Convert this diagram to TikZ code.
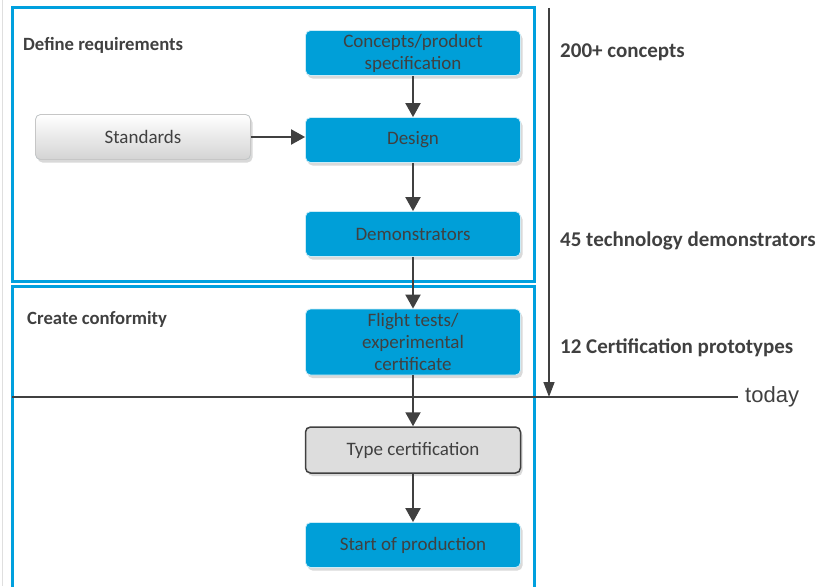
\documentclass[tikz,border=0pt]{standalone}
\usepackage{fontspec}
\setmainfont{Carlito}
\newfontfamily\todayfont{Liberation Sans}
\usepackage{tikz}
\usetikzlibrary{arrows.meta,shadows}

\definecolor{frameblue}{RGB}{0,160,222}
\definecolor{boxblue}{RGB}{0,159,216}
\definecolor{darktext}{RGB}{64,64,64}
\definecolor{lightbox}{RGB}{221,221,221}

\tikzset{
	stage/.style={rectangle, rounded corners=5pt, fill=boxblue, draw=white!80!boxblue,
		line width=0.8pt, minimum width=215pt, minimum height=45pt, inner sep=0pt,
		align=center, text=darktext, font=\fontsize{19}{22}\selectfont,
		drop shadow={opacity=0.3, shadow xshift=2pt, shadow yshift=-3pt}},
	input/.style={stage, draw=gray!45, top color=white, bottom color=lightbox!90!gray},
	milestone/.style={stage, fill=lightbox, draw=darktext, line width=1.5pt},
	phase/.style={anchor=west, inner sep=0pt, text=darktext, font=\fontsize{18.7}{22}\selectfont\bfseries},
	count/.style={phase, font=\fontsize{21}{24}\selectfont\bfseries},
	flow/.style={draw=darktext, line width=2pt, -{Triangle[length=14pt,width=15pt]}},
	frame/.style={draw=frameblue, line width=3pt},
}

\begin{document}
\begin{tikzpicture}[x=1pt, y=-1pt]

	% ---- parameters

	\def\boxx{413}
	\def\timex{549}
	\def\todayy{397}

	\useasboundingbox (0,0) rectangle (821,586);

	% ---- coordinates

	\coordinate (T1) at (\timex,8);
	\coordinate (T2) at (\timex,\todayy);
	\coordinate (D1) at (12,\todayy);
	\coordinate (D2) at (738,\todayy);

	% ---- frames

	\draw[gray!25, line width=1pt] (2,0) -- (2,586);
	\draw[frame] (12,8) rectangle (534,281);
	\draw[frame] (12,592) -- (12,286) -- (534,286) -- (534,592);

	% ---- phase labels

	\node[phase] (define) at (23,45) {Define requirements};
	\node[phase] (conform) at (27,319) {Create conformity};

	% ---- stages

	\node[stage] (concepts) at (\boxx,53) {Concepts/product\\specification};
	\node[input] (standards) at (143,137) {Standards};
	\node[stage] (design) at (\boxx,140) {Design};
	\node[stage] (demo) at (\boxx,234) {Demonstrators};
	\node[stage, minimum height=66pt] (flight) at (\boxx,342) {Flight tests/\\experimental\\certificate};
	\node[milestone, minimum height=46pt] (typecert) at (\boxx,450) {Type certification};
	\node[stage] (production) at (\boxx,545) {Start of production};

	% ---- flow arrows

	\draw[flow] (concepts) -- (design);
	\draw[flow] (standards.east) -- (standards.east -| design.west);
	\draw[flow] (design) -- (demo);
	\draw[flow] (demo) -- (flight);
	\draw[flow] (flight) -- (typecert);
	\draw[flow] (typecert) -- (production);

	% ---- timeline

	\draw[darktext, line width=1.5pt, -{Triangle[length=15pt,width=11pt]}] (T1) -- (T2);
	\draw[darktext, line width=1.5pt] (D1) -- (D2);
	\node[anchor=west, inner sep=0pt, text=darktext, font=\todayfont\fontsize{22}{24}\selectfont] (today) at (745,\todayy) {today};

	% ---- counts

	\node[count] (nconcepts) at (560,52) {200+ concepts};
	\node[count] (ndemo) at (560,241) {45 technology demonstrators};
	\node[count] (nproto) at (560,348) {12 Certification prototypes};

\end{tikzpicture}
\end{document}
